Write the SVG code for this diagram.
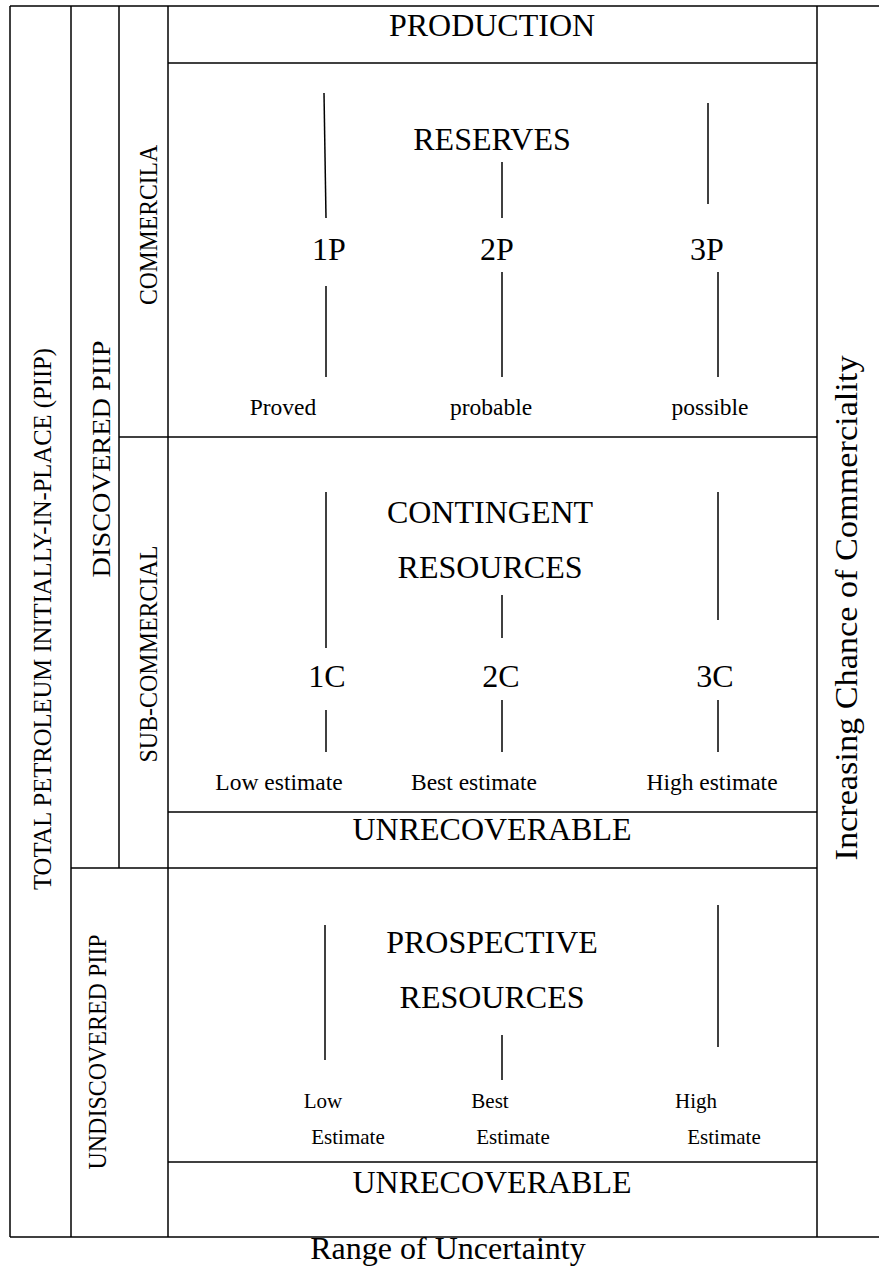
<svg xmlns="http://www.w3.org/2000/svg" width="879" height="1274" viewBox="0 0 879 1274">
<style>
.f{stroke:#000;stroke-width:1.5;fill:none}
.c{stroke:#000;stroke-width:1.5;fill:none}
text{font-family:"Liberation Serif","Times New Roman",serif;fill:#000}
.t{font-size:32px;text-anchor:middle}
.s{font-size:23.5px;text-anchor:middle}
.x{font-size:21px;text-anchor:middle}
.v{font-size:26px;text-anchor:middle}
</style>
<rect width="879" height="1274" fill="#fff"/>
<g id="frame" class="f">
<line x1="10" y1="6" x2="879" y2="6"/>
<line x1="10" y1="1237" x2="879" y2="1237"/>
<line x1="10" y1="6" x2="10" y2="1237"/>
<line x1="71" y1="6" x2="71" y2="1237"/>
<line x1="119" y1="6" x2="119" y2="868"/>
<line x1="168" y1="6" x2="168" y2="1237"/>
<line x1="817" y1="6" x2="817" y2="1237"/>
<line x1="168" y1="63" x2="817" y2="63"/>
<line x1="119" y1="437" x2="817" y2="437"/>
<line x1="168" y1="812" x2="817" y2="812"/>
<line x1="71" y1="868" x2="817" y2="868"/>
<line x1="168" y1="1162" x2="817" y2="1162"/>
</g>
<g id="total-piip"><text class="v" transform="translate(51,619) rotate(-90)" textLength="542" lengthAdjust="spacingAndGlyphs">TOTAL PETROLEUM INITIALLY-IN-PLACE (PIIP)</text></g>
<g id="discovered-piip"><text class="v" transform="translate(110,459) rotate(-90)" textLength="237" lengthAdjust="spacingAndGlyphs">DISCOVERED PIIP</text></g>
<g id="undiscovered-piip"><text class="v" transform="translate(106,1052) rotate(-90)" textLength="235" lengthAdjust="spacingAndGlyphs">UNDISCOVERED PIIP</text></g>
<g id="commercial"><text class="v" transform="translate(157,225) rotate(-90)" textLength="160" lengthAdjust="spacingAndGlyphs">COMMERCILA</text></g>
<g id="sub-commercial"><text class="v" transform="translate(157,654) rotate(-90)" textLength="217" lengthAdjust="spacingAndGlyphs">SUB-COMMERCIAL</text></g>
<g id="chance"><text class="t" transform="translate(857,608) rotate(-90)" textLength="505" lengthAdjust="spacingAndGlyphs">Increasing Chance of Commerciality</text></g>
<g id="production"><text class="t" x="492" y="36">PRODUCTION</text></g>
<g id="reserves">
<text class="t" x="492" y="150">RESERVES</text>
<text class="t" x="329" y="260">1P</text>
<text class="t" x="497" y="260">2P</text>
<text class="t" x="707" y="260">3P</text>
<text class="s" x="283" y="415">Proved</text>
<text class="s" x="491" y="415">probable</text>
<text class="s" x="710" y="415">possible</text>
</g>
<g id="contingent">
<text class="t" x="490" y="523">CONTINGENT</text>
<text class="t" x="490" y="578">RESOURCES</text>
<text class="t" x="327" y="687">1C</text>
<text class="t" x="501" y="687">2C</text>
<text class="t" x="715" y="687">3C</text>
<text class="s" x="279" y="790">Low estimate</text>
<text class="s" x="474" y="790">Best estimate</text>
<text class="s" x="712" y="790">High estimate</text>
</g>
<g id="unrecoverable-1"><text class="t" x="492" y="840">UNRECOVERABLE</text></g>
<g id="prospective">
<text class="t" x="492" y="953">PROSPECTIVE</text>
<text class="t" x="492" y="1008">RESOURCES</text>
<text class="x" x="323" y="1108">Low</text>
<text class="x" x="348" y="1144">Estimate</text>
<text class="x" x="490" y="1108">Best</text>
<text class="x" x="513" y="1144">Estimate</text>
<text class="x" x="696" y="1108">High</text>
<text class="x" x="724" y="1144">Estimate</text>
</g>
<g id="unrecoverable-2"><text class="t" x="492" y="1193">UNRECOVERABLE</text></g>
<g id="uncertainty"><text class="t" x="448" y="1259">Range of Uncertainty</text></g>
<g id="connectors" class="c">
<line x1="324" y1="93" x2="326" y2="218"/>
<line x1="502" y1="162" x2="502" y2="218"/>
<line x1="708" y1="103" x2="708" y2="204"/>
<line x1="326" y1="286" x2="326" y2="377"/>
<line x1="502" y1="272" x2="502" y2="377"/>
<line x1="718" y1="272" x2="718" y2="377"/>
<line x1="326" y1="492" x2="326" y2="648"/>
<line x1="502" y1="595" x2="502" y2="638"/>
<line x1="718" y1="492" x2="718" y2="620"/>
<line x1="326" y1="710" x2="326" y2="752"/>
<line x1="502" y1="700" x2="502" y2="752"/>
<line x1="718" y1="700" x2="718" y2="752"/>
<line x1="325" y1="925" x2="325" y2="1060"/>
<line x1="502" y1="1035" x2="502" y2="1080"/>
<line x1="718" y1="905" x2="718" y2="1047"/>
</g>
</svg>
